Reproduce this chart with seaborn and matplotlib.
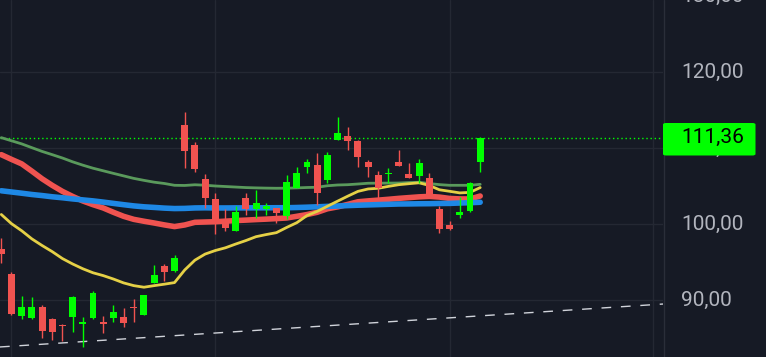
import matplotlib
matplotlib.use("Agg")
import matplotlib.pyplot as plt
from matplotlib.patches import FancyBboxPatch
import numpy as np
import pandas as pd
import seaborn as sns

# OHLC data
opens = [96.71, 93.42, 87.93, 87.63, 89.08, 87.50, 86.75, 87.80, 86.90, 87.67,
         87.00, 87.67, 87.76, 89.08, 88.07, 92.28, 94.47, 93.82, 113.03, 110.39,
         105.92, 103.29, 100.30, 99.12, 103.42, 101.93, 101.93, 102.11, 101.09, 104.78,
         107.54, 107.76, 105.83, 111.09, 111.58, 110.92, 108.16, 106.45, 106.60, 108.16,
         106.58, 106.32, 106.05, 101.97, 99.87, 101.22, 101.75, 108.20]
highs = [98.12, 93.68, 90.53, 90.39, 89.34, 87.63, 86.84, 90.53, 87.76, 91.18,
         87.89, 89.34, 88.95, 90.13, 90.70, 94.61, 94.74, 95.92, 114.74, 110.79,
         106.58, 104.04, 101.93, 102.37, 104.04, 104.47, 102.76, 102.11, 106.45, 107.50,
         108.55, 109.34, 109.47, 114.08, 112.76, 111.05, 108.42, 106.97, 107.37, 109.74,
         108.03, 108.55, 106.71, 102.37, 100.39, 103.55, 105.53, 111.40]
lows = [94.83, 88.07, 87.54, 87.54, 85.04, 84.78, 84.64, 85.83, 83.86, 87.55,
        85.70, 87.07, 86.49, 87.07, 88.00, 92.25, 92.54, 93.72, 107.41, 106.88,
        102.14, 98.72, 99.12, 99.10, 101.22, 100.75, 101.14, 100.17, 100.70, 104.70,
        106.75, 102.54, 105.43, 111.00, 109.78, 107.54, 106.22, 103.46, 105.39, 107.67,
        106.09, 105.39, 103.59, 98.86, 99.25, 100.83, 101.62, 106.88]
closes = [96.01, 88.20, 89.08, 89.08, 85.96, 85.83, 86.58, 90.39, 87.00, 90.92,
          86.90, 88.42, 86.97, 89.00, 90.66, 93.29, 93.72, 95.53, 109.64, 107.24,
          103.46, 100.00, 99.51, 101.58, 101.97, 102.76, 102.37, 101.49, 105.53, 106.71,
          108.16, 104.12, 109.08, 111.97, 110.96, 108.86, 107.54, 104.78, 106.71, 107.67,
          106.09, 108.03, 103.59, 99.38, 99.38, 101.58, 105.39, 111.36]

# moving averages
ma_green = [111.36, 110.95, 110.54, 110.04, 109.55, 109.12, 108.68, 108.18, 107.74, 107.34,
            107.00, 106.66, 106.33, 106.00, 105.74, 105.50, 105.33, 105.09, 105.07, 105.16,
            105.10, 105.00, 104.93, 104.86, 104.79, 104.75, 104.72, 104.70, 104.71, 104.75,
            104.80, 104.83, 105.03, 105.13, 105.17, 105.26, 105.36, 105.37, 105.38, 105.39,
            105.45, 105.49, 105.32, 105.18, 105.09, 105.09, 105.09, 105.22]
ma_red = [109.12, 108.50, 107.91, 106.95, 105.95, 105.08, 104.29, 103.63, 103.03, 102.54,
          102.11, 101.54, 101.01, 100.61, 100.36, 100.13, 99.88, 99.66, 99.87, 100.22,
          100.26, 100.30, 100.37, 100.45, 100.51, 100.58, 100.64, 100.71, 100.79, 101.01,
          101.24, 101.54, 102.00, 102.25, 102.58, 102.92, 103.04, 103.14, 103.25, 103.37,
          103.47, 103.57, 103.63, 103.54, 103.36, 103.30, 103.29, 103.68]
ma_blue = [104.37, 104.21, 104.05, 103.88, 103.74, 103.58, 103.45, 103.30, 103.17, 103.04,
           102.88, 102.71, 102.54, 102.38, 102.26, 102.18, 102.09, 102.03, 102.05, 102.11,
           102.13, 102.11, 102.11, 102.12, 102.12, 102.13, 102.13, 102.14, 102.14, 102.17,
           102.21, 102.26, 102.32, 102.36, 102.42, 102.47, 102.51, 102.55, 102.59, 102.63,
           102.64, 102.66, 102.67, 102.70, 102.71, 102.76, 102.80, 102.86]
ma_yellow = [101.25, 100.04, 99.11, 98.04, 97.17, 96.36, 95.45, 94.74, 94.11, 93.58,
             93.21, 92.76, 92.25, 91.89, 91.68, 91.89, 92.08, 92.29, 93.95, 95.24,
             96.04, 96.51, 96.87, 97.36, 97.82, 98.33, 98.61, 98.86, 99.54, 100.17,
             101.11, 101.66, 102.33, 103.00, 103.66, 104.29, 104.61, 104.70, 104.95, 105.17,
             105.30, 105.42, 105.07, 104.50, 104.30, 104.09, 104.16, 104.79]

trend_x = [-0.13, 64.94]
trend_y = [83.82, 89.47]
last_price = 111.36
price_ticks = [130, 120, 110, 100, 90]
time_grid = [1, 21, 44, 64]

BG = "#161a25"
GRID = "#242833"
UP = "#00ff00"
DOWN = "#f05350"

sns.set_style("dark", {"axes.facecolor": BG, "figure.facecolor": BG})
plt.rcParams["font.family"] = ["Roboto", "DejaVu Sans"]

fig = plt.figure(figsize=(7.66, 3.57), dpi=100)
ax = fig.add_axes([0, 0, 663 / 766, 1])
ax.set_facecolor(BG)

idx = np.arange(len(closes))
df = pd.DataFrame({"i": idx, "o": opens, "h": highs, "l": lows, "c": closes,
                   "g": ma_green, "r": ma_red, "b": ma_blue, "y": ma_yellow})

# grid
for p in price_ticks:
    ax.axhline(p, color=GRID, lw=1, zorder=0)
for t in time_grid:
    ax.axvline(t, color=GRID, lw=1, zorder=0)

# moving averages
sns.lineplot(data=df, x="i", y="g", ax=ax, color="#5a9a5c", lw=2, zorder=2)
sns.lineplot(data=df, x="i", y="r", ax=ax, color="#f05350", lw=4, zorder=2)
sns.lineplot(data=df, x="i", y="b", ax=ax, color="#1e88e5", lw=4, zorder=2)
sns.lineplot(data=df, x="i", y="y", ax=ax, color="#e5d046", lw=2, zorder=3)

# candles
colors = np.where(df["c"] >= df["o"], UP, DOWN)
ax.vlines(df["i"], df["l"], df["h"], colors=colors, lw=1, zorder=4)
body_lo = np.minimum(df["o"], df["c"])
body_h = np.maximum(np.abs(df["c"] - df["o"]), 0.14)
ax.bar(df["i"], body_h, bottom=body_lo, width=0.68, color=colors, lw=0, zorder=5)

# trend line
sns.lineplot(x=trend_x, y=trend_y, ax=ax, color="#d0d3da", lw=1,
             linestyle=(0, (7, 7)), zorder=3)

# last price line
ax.axhline(last_price, color=UP, lw=1, linestyle=(0, (1, 2)), zorder=1)

ax.set_xlim(-0.128, 64.94)
ax.set_ylim(82.5, 129.47)
ax.set_xlabel("")
ax.set_ylabel("")
ax.set_xticks([])
ax.set_yticks([])
for s in ax.spines.values():
    s.set_visible(False)

# price axis separator
fig.add_artist(plt.Line2D([663.5 / 766] * 2, [0, 1], color="#2a2e39", lw=1))

# price labels
tr = ax.get_yaxis_transform()
for p in price_ticks:
    ax.text(681 / 663, p, f"{p},00", transform=tr, ha="left", va="center",
            color="#b2b5be", fontsize=15, clip_on=False)

# last price tag
box = FancyBboxPatch((663 / 766, 1 - 155.5 / 357), 92.5 / 766, 32.5 / 357,
                     boxstyle="round,pad=0,rounding_size=0.004",
                     transform=fig.transFigure, color=UP, lw=0, zorder=10)
fig.add_artist(box)
tag = fig.text(681 / 766, 0.5, "111,36", ha="left", va="center",
               color="#000000", fontsize=15, zorder=11)
tag.set_y(ax.transAxes.inverted().transform(
    ax.transData.transform((0, last_price)))[1])

fig.savefig("out.png", dpi=100, facecolor=BG)
